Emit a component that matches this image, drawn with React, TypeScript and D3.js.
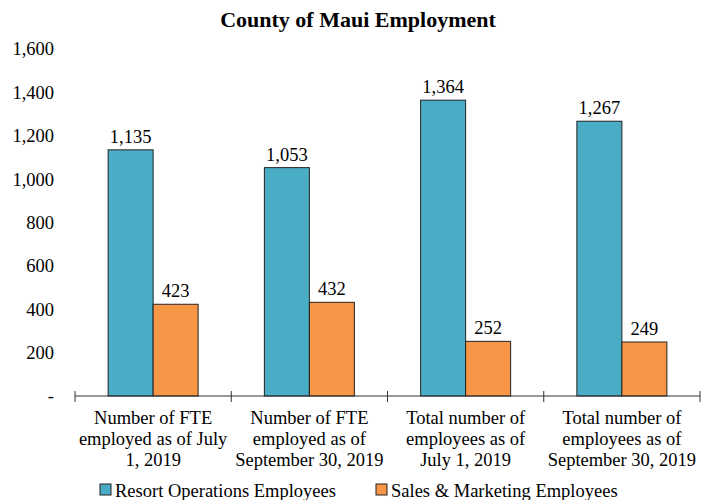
import React from 'react';
import * as d3 from 'd3';

const categories = [
  ['Number of FTE', 'employed as of July', '1, 2019'],
  ['Number of FTE', 'employed as of', 'September 30, 2019'],
  ['Total number of', 'employees as of', 'July 1, 2019'],
  ['Total number of', 'employees as of', 'September 30, 2019'],
];
const seriesNames = ['Resort Operations Employees', 'Sales & Marketing Employees'];
const resortValues = [1135, 1053, 1364, 1267];
const salesValues = [423, 432, 252, 249];
const yTicks = [0, 200, 400, 600, 800, 1000, 1200, 1400, 1600];
const colors = ['#4BACC6', '#F79646'];

const W = 710;
const H = 500;
const font = '"Liberation Serif", "Times New Roman", serif';
const fs = 18.5;

const App = () => {
  const x0 = d3.scaleBand<number>().domain(d3.range(categories.length)).range([75, 700]).paddingInner(0).paddingOuter(0);
  const y = d3.scaleLinear().domain([0, 1600]).range([396, 49]);
  const bw = x0.bandwidth();
  const barW = 45;
  const fmt = d3.format(',');
  const series = [resortValues, salesValues];

  return (
    <svg width={W} height={H} style={{ position: 'absolute', left: 0, top: 0, fontFamily: font }}>
      <rect width={W} height={H} fill="#fff" />
      <text x={358} y={27} textAnchor="middle" fontSize={22} fontWeight="bold">County of Maui Employment</text>

      {yTicks.map(t => (
        <text key={t} x={54} y={y(t)} dy="0.35em" textAnchor="end" fontSize={fs}>
          {t === 0 ? '-' : fmt(t)}
        </text>
      ))}

      {series.map((vals, s) => vals.map((v, i) => {
        const cx = (x0(i) as number) + bw / 2;
        const bx = cx - barW + s * barW;
        return (
          <g key={`${s}-${i}`}>
            <rect x={bx} y={y(v)} width={barW} height={y(0) - y(v)} fill={colors[s]} stroke="#222" strokeWidth={1} />
            <text x={bx + barW / 2} y={y(v) - 7} textAnchor="middle" fontSize={fs}>{fmt(v)}</text>
          </g>
        );
      }))}

      <line x1={75} x2={700} y1={y(0)} y2={y(0)} stroke="#333" strokeWidth={1} />
      {d3.range(categories.length + 1).map(i => {
        const tx = i < categories.length ? (x0(i) as number) : 700;
        return <line key={i} x1={tx} x2={tx} y1={y(0) - 5} y2={y(0) + 6} stroke="#333" strokeWidth={1} />;
      })}

      {categories.map((lines, i) => (
        <text key={i} x={(x0(i) as number) + bw / 2} y={424} textAnchor="middle" fontSize={fs}>
          {lines.map((l, j) => (
            <tspan key={j} x={(x0(i) as number) + bw / 2} dy={j === 0 ? 0 : 21}>{l}</tspan>
          ))}
        </text>
      ))}

      {seriesNames.map((n, s) => {
        const lx = s === 0 ? 100 : 376;
        return (
          <g key={n}>
            <rect x={lx} y={484} width={11} height={11} fill={colors[s]} stroke="#222" strokeWidth={1} />
            <text x={lx + 15} y={497} fontSize={fs}>{n}</text>
          </g>
        );
      })}
    </svg>
  );
};

export default App;
